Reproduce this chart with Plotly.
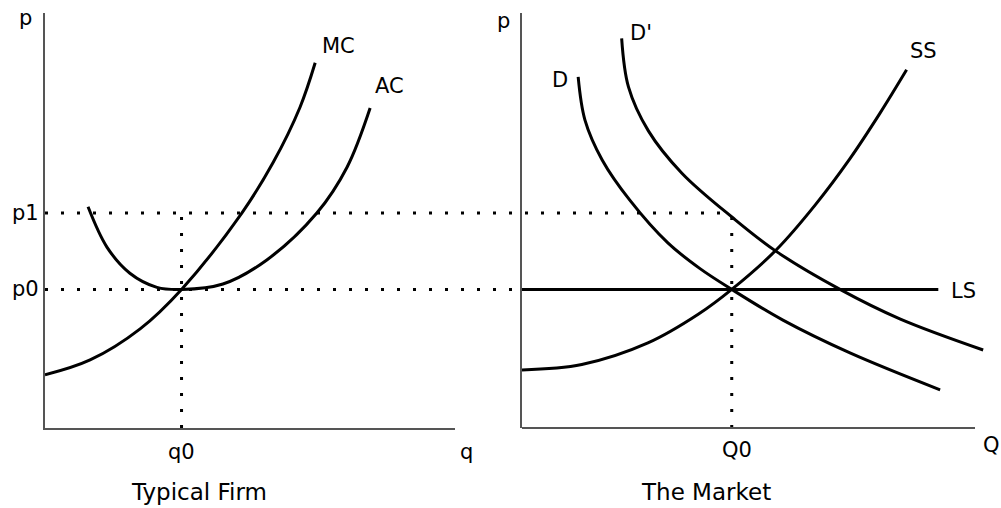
import plotly.graph_objects as go

W, H = 1001, 508

# ---------------- Typical Firm (left panel) ----------------
firm_q_mc = [0.0, 1.10, 2.32, 3.33, 4.80, 5.56, 6.22, 6.59]
firm_p_mc = [1.28, 1.64, 2.39, 3.34, 5.18, 6.39, 7.73, 8.80]
firm_q_ac = [1.05, 1.51, 2.07, 2.73, 3.33, 4.34, 5.41, 6.63, 7.37, 7.93]
firm_p_ac = [5.33, 4.36, 3.73, 3.39, 3.34, 3.47, 4.05, 5.18, 6.29, 7.71]
p0 = 3.34
p1 = 5.18
q0 = 3.33

# ---------------- The Market (right panel) ----------------
mkt_q_d = [1.24, 1.39, 1.77, 2.38, 3.22, 3.93, 4.63, 5.76, 7.24, 9.23]
mkt_p_d = [8.46, 7.42, 6.46, 5.49, 4.46, 3.84, 3.34, 2.60, 1.81, 0.92]
mkt_q_d2 = [2.20, 2.35, 2.79, 3.53, 4.66, 5.62, 7.02, 8.34, 10.18]
mkt_p_d2 = [9.39, 8.22, 7.16, 6.14, 5.06, 4.25, 3.34, 2.63, 1.88]
mkt_q_ss = [0.0, 1.32, 2.78, 3.89, 4.63, 5.62, 6.47, 7.24, 7.90, 8.49]
mkt_p_ss = [1.40, 1.53, 2.05, 2.74, 3.34, 4.30, 5.37, 6.49, 7.58, 8.63]
Q0 = 4.63
ls_q = [0.0, 9.19]
mkt_axis_end = 10.0

tick_p = ["p0", "p1"]

# ---------------- layout geometry ----------------
FONT = "DejaVu Sans"
FS = 21
CURVE = dict(color="black", width=3)
DOT = dict(color="black", width=3, dash="3px,13px")
AXC = "#555555"

left_dom = [45 / W, 455 / W]
right_dom = [522 / W, 995 / W]
y_dom = [(H - 428) / H, (H - 13) / H]
left_range = [0, 10]
right_range = [0, 473 / 45.3]
y_range = [0, 10]


def x2_paper(v):
    return right_dom[0] + (v - right_range[0]) / (right_range[1] - right_range[0]) * (right_dom[1] - right_dom[0])


fig = go.Figure()

# dotted guides (in-panel)
fig.add_trace(go.Scatter(x=[q0, q0], y=[0, p1], mode="lines", line=DOT, xaxis="x", yaxis="y", hoverinfo="skip"))
fig.add_trace(go.Scatter(x=[Q0, Q0], y=[0, p1], mode="lines", line=DOT, xaxis="x2", yaxis="y2", hoverinfo="skip"))

# firm curves
fig.add_trace(go.Scatter(x=firm_q_mc, y=firm_p_mc, mode="lines", line=dict(**CURVE, shape="spline"), xaxis="x", yaxis="y"))
fig.add_trace(go.Scatter(x=firm_q_ac, y=firm_p_ac, mode="lines", line=dict(**CURVE, shape="spline"), xaxis="x", yaxis="y"))

# market curves
fig.add_trace(go.Scatter(x=mkt_q_d, y=mkt_p_d, mode="lines", line=dict(**CURVE, shape="spline"), xaxis="x2", yaxis="y2"))
fig.add_trace(go.Scatter(x=mkt_q_d2, y=mkt_p_d2, mode="lines", line=dict(**CURVE, shape="spline"), xaxis="x2", yaxis="y2"))
fig.add_trace(go.Scatter(x=mkt_q_ss, y=mkt_p_ss, mode="lines", line=dict(**CURVE, shape="spline"), xaxis="x2", yaxis="y2"))
fig.add_trace(go.Scatter(x=ls_q, y=[p0, p0], mode="lines", line=CURVE, xaxis="x2", yaxis="y2"))

shapes = [
    # p1 dotted line: from firm's price axis across to Q0 in the market
    dict(type="line", xref="paper", yref="y", x0=left_dom[0], x1=x2_paper(Q0), y0=p1, y1=p1, line=DOT, layer="below"),
    # p0 dotted line: from firm's price axis to market's price axis
    dict(type="line", xref="paper", yref="y", x0=left_dom[0], x1=right_dom[0], y0=p0, y1=p0, line=DOT, layer="below"),
    # market quantity axis line
    dict(type="line", xref="x2", yref="y2 domain", x0=0, x1=mkt_axis_end, y0=0, y1=0, line=dict(color=AXC, width=2)),
]


def px2paper(px, py):
    return px / W, 1 - py / H


ann = []


def add_paper(text, px, py, size=FS, xanchor="center"):
    x, y = px2paper(px, py)
    ann.append(dict(text=text, x=x, y=y, xref="paper", yref="paper", xanchor=xanchor, yanchor="middle",
                    showarrow=False, font=dict(size=size)))


# axis names
add_paper("p", 25, 18)
add_paper("q", 466, 452)
add_paper("p", 503.5, 21)
add_paper("Q", 991, 445)
# panel titles
add_paper("Typical Firm", 198.5, 492, size=23)
add_paper("The Market", 706, 492, size=23)

# price tick labels
for lab, val in zip(tick_p, [p0, p1]):
    ann.append(dict(text=lab, x=41 / W, y=val, xref="paper", yref="y", xanchor="right", yanchor="middle", showarrow=False))
# quantity labels
ann.append(dict(text="q0", x=q0, y=1 - 452 / H, xref="x", yref="paper", xanchor="center", yanchor="middle", showarrow=False))
ann.append(dict(text="Q0", x=Q0, y=1 - 450 / H, xref="x2", yref="paper", xanchor="center", yanchor="middle", xshift=5, showarrow=False))

# curve labels anchored at curve ends
ann.append(dict(text="MC", x=firm_q_mc[-1], y=firm_p_mc[-1], xref="x", yref="y", xshift=23, yshift=17, showarrow=False))
ann.append(dict(text="AC", x=firm_q_ac[-1], y=firm_p_ac[-1], xref="x", yref="y", xshift=19, yshift=22, showarrow=False))
ann.append(dict(text="D", x=mkt_q_d[0], y=mkt_p_d[0], xref="x2", yref="y2", xshift=-18, yshift=-3, showarrow=False))
ann.append(dict(text="D'", x=mkt_q_d2[0], y=mkt_p_d2[0], xref="x2", yref="y2", xshift=19, yshift=5, showarrow=False))
ann.append(dict(text="SS", x=mkt_q_ss[-1], y=mkt_p_ss[-1], xref="x2", yref="y2", xshift=17, yshift=19, showarrow=False))
ann.append(dict(text="LS", x=ls_q[-1], y=p0, xref="x2", yref="y2", xshift=25, yshift=-2, showarrow=False))

axis_common = dict(showgrid=False, zeroline=False, ticks="", showticklabels=False, automargin=False, fixedrange=True)

fig.update_layout(
    width=W,
    height=H,
    margin=dict(l=0, r=0, t=0, b=0),
    paper_bgcolor="white",
    plot_bgcolor="white",
    showlegend=False,
    font=dict(family=FONT, size=FS, color="black"),
    xaxis=dict(domain=left_dom, range=left_range, showline=True, linecolor=AXC, linewidth=2, anchor="y", **axis_common),
    yaxis=dict(domain=y_dom, range=y_range, showline=True, linecolor=AXC, linewidth=2, anchor="x", **axis_common),
    xaxis2=dict(domain=right_dom, range=right_range, showline=False, anchor="y2", **axis_common),
    yaxis2=dict(domain=y_dom, range=y_range, showline=True, linecolor=AXC, linewidth=2, anchor="x2", **axis_common),
    shapes=shapes,
    annotations=ann,
)

fig.write_html(
    "out.html",
    config={"displayModeBar": False},
    post_script="document.body.style.margin='0';document.body.style.overflow='hidden';",
)
